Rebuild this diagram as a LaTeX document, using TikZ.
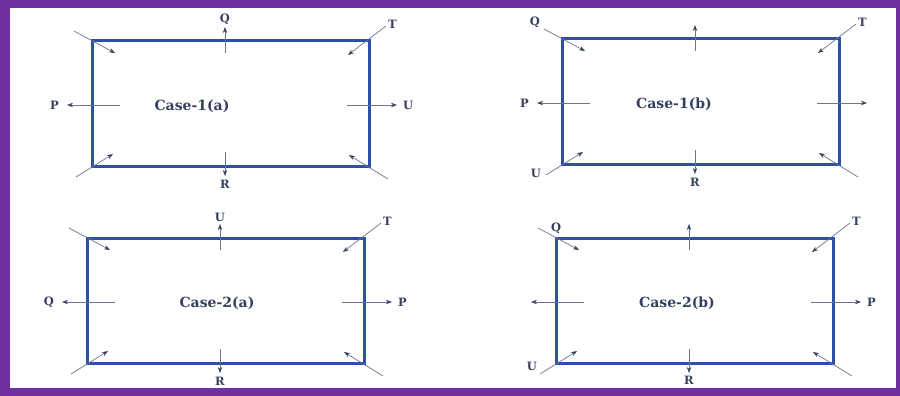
\documentclass[tikz,border=0pt]{standalone}
\usepackage{fontspec}
\setmainfont{DejaVu Serif}
\usetikzlibrary{positioning,arrows.meta}
\definecolor{framepurple}{HTML}{7030A0}
\definecolor{boxblue}{HTML}{2C4FA8}
\definecolor{arrowgray}{HTML}{6A7390}
\definecolor{labelink}{HTML}{36405E}

\begin{document}
\begin{tikzpicture}[
  x=1pt, y=-1pt,
  box/.style={draw=boxblue, line width=3pt},
  ar/.style={-{Stealth[length=6pt, width=4.4pt, color=labelink]},
             draw=arrowgray, line width=0.7pt},
  lbl/.style={font=\bfseries\fontsize{11.5}{13}\selectfont, text=labelink,
              inner sep=1pt},
  case/.style={font=\bfseries\fontsize{14}{16}\selectfont, text=labelink},
]
% frame
\fill[framepurple] (0,0) rectangle (900,396);
\fill[white] (10,8) rectangle (896,388);
\useasboundingbox (0,0) rectangle (900,396);

% panels: box, case name and the eight arrows
\foreach \p/\x/\y/\tx/\txt in {1/92/41/100/Case-1(a), 2/562/39/112/Case-1(b),
                               3/87/238/130/Case-2(a), 4/556/238/121/Case-2(b)} {
  \begin{scope}[shift={(\x,\y)}]
    \draw[box] (0,0) rectangle (277,125);
    \node[case] (case\p) at (\tx,65) {\txt};
    \foreach \s/\ax/\ay/\bx/\by in {top/133/12/133/-14, bot/133/111/133/135,
        lft/28/64/-25/64, rgt/255/64/305/64,
        tl/-18/-10/23/12, tr/294/-15/256/14,
        bl/-16/136/21/113, br/296/138/257/114} {
      \coordinate (\s a\p) at (\ax,\ay);
      \coordinate (\s b\p) at (\bx,\by);
      \draw[ar] (\s a\p) -- (\s b\p);
    }
  \end{scope}
}

% labels, case 1(a)
\node[lbl, above=1pt of topb1] (q1) {Q};
\node[lbl, below=3pt of botb1] (r1) {R};
\node[lbl, left=7pt of lftb1] (p1) {P};
\node[lbl, right=5pt of rgtb1] (u1) {U};
\node[lbl, right=1pt of tra1, yshift=2pt] (t1) {T};

% labels, case 1(b)
\node[lbl, above left=0pt and 3pt of tla2] (q2) {Q};
\node[lbl, below=3pt of botb2] (r2) {R};
\node[lbl, left=7pt of lftb2] (p2) {P};
\node[lbl, right=1pt of tra2, yshift=2pt] (t2) {T};
\node[lbl, left=4pt of bla2, yshift=2pt] (u2) {U};

% labels, case 2(a)
\node[lbl, above=1pt of topb3] (u3) {U};
\node[lbl, below=3pt of botb3] (r3) {R};
\node[lbl, left=7pt of lftb3] (q3) {Q};
\node[lbl, right=5pt of rgtb3] (p3) {P};
\node[lbl, right=1pt of tra3, yshift=2pt] (t3) {T};

% labels, case 2(b)
\node[lbl, right=12pt of tla4] (q4) {Q};
\node[lbl, below=2pt of botb4] (r4) {R};
\node[lbl, right=5pt of rgtb4] (p4) {P};
\node[lbl, right=1pt of tra4, yshift=2pt] (t4) {T};
\node[lbl, above left=2pt and 2pt of bla4] (u4) {U};
\end{tikzpicture}
\end{document}
